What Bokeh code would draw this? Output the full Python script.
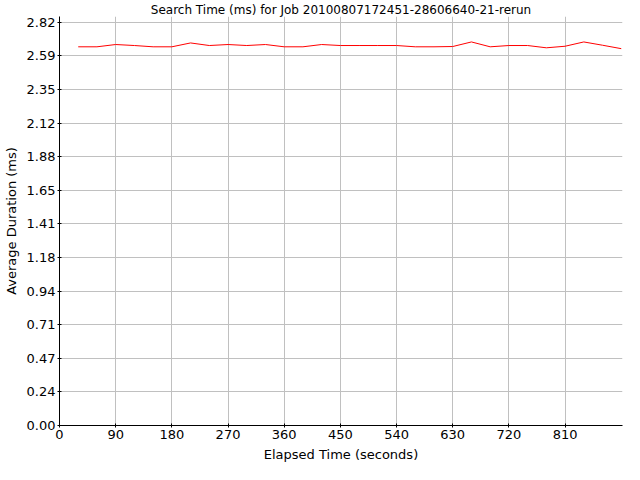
from bokeh.plotting import figure
from bokeh.models import FixedTicker, ColumnDataSource, Range1d
from bokeh.embed import file_html
from bokeh.resources import INLINE

title = "Search Time (ms) for Job 20100807172451-28606640-21-rerun"
x_label = "Elapsed Time (seconds)"
y_label = "Average Duration (ms)"

elapsed = [30, 60, 90, 120, 150, 180, 210, 240, 270, 300,
           330, 360, 390, 420, 450, 480, 510, 540, 570, 600,
           630, 660, 690, 720, 750, 780, 810, 840, 870, 900]
duration = [2.649, 2.649, 2.665, 2.658, 2.649, 2.649, 2.676, 2.658, 2.665, 2.658,
            2.665, 2.649, 2.649, 2.665, 2.658, 2.658, 2.658, 2.658, 2.649, 2.649,
            2.651, 2.683, 2.649, 2.658, 2.658, 2.642, 2.653, 2.683, 2.660, 2.636]

x_ticks = [0, 90, 180, 270, 360, 450, 540, 630, 720, 810]
y_ticks = [0.0, 0.235, 0.47, 0.705, 0.94, 1.175, 1.41, 1.645, 1.88, 2.115, 2.35, 2.585, 2.82]
y_tick_labels = ["0.00", "0.24", "0.47", "0.71", "0.94", "1.18", "1.41",
                 "1.65", "1.88", "2.12", "2.35", "2.59", "2.82"]

FONT = "DejaVu Sans"

p = figure(width=624, height=464, output_backend="svg", toolbar_location=None,
           x_range=Range1d(0, 902), y_range=Range1d(0, 2.861),
           min_border_left=58, min_border_right=2, min_border_top=2, min_border_bottom=0)

p.title.text = title
p.title.align = "center"
p.title.text_font = FONT
p.title.text_font_size = "12px"
p.title.text_font_style = "normal"
p.title.text_color = "black"
p.title.offset = 0
p.title.standoff = 0

src = ColumnDataSource(dict(x=elapsed, y=duration))
p.line("x", "y", source=src, line_color="#ff0000", line_width=1)

p.xaxis.ticker = FixedTicker(ticks=x_ticks)
p.yaxis.ticker = FixedTicker(ticks=y_ticks)
p.yaxis.major_label_overrides = {t: l for t, l in zip(y_ticks, y_tick_labels)}

for ax in (p.xaxis, p.yaxis):
    ax.axis_line_color = "black"
    ax.axis_line_width = 1
    ax.major_tick_in = 2
    ax.major_tick_out = 2
    ax.major_tick_line_color = "black"
    ax.minor_tick_line_color = None
    ax.major_label_text_font = FONT
    ax.major_label_text_font_size = "13px"
    ax.major_label_text_color = "black"
    ax.axis_label_text_font = FONT
    ax.axis_label_text_font_size = "13px"
    ax.axis_label_text_font_style = "normal"
    ax.axis_label_text_color = "black"
    ax.major_label_standoff = 2
    ax.axis_label_standoff = 5

p.xaxis.axis_label = x_label
p.yaxis.axis_label = y_label

p.xgrid.grid_line_color = "#c0c0c0"
p.ygrid.grid_line_color = "#c0c0c0"
p.xgrid.grid_line_width = 1
p.ygrid.grid_line_width = 1
p.outline_line_color = None
p.background_fill_color = "white"
p.border_fill_color = "white"

open("out.html", "w").write(file_html(p, INLINE))
